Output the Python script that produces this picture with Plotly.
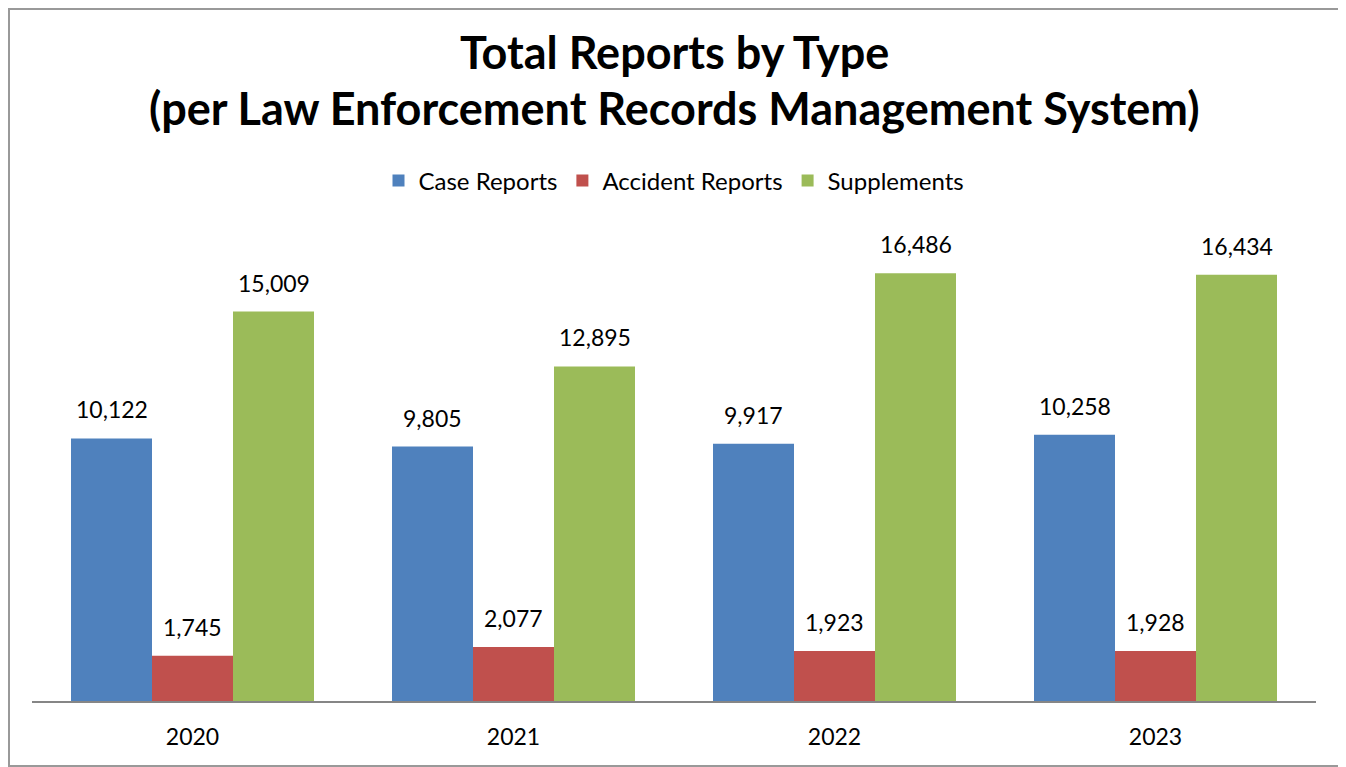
import plotly.graph_objects as go

years = ["2020", "2021", "2022", "2023"]
case_reports = [10122, 9805, 9917, 10258]
accident_reports = [1745, 2077, 1923, 1928]
supplements = [15009, 12895, 16486, 16434]

series = [
    ("Case Reports", case_reports, "#4F81BD"),
    ("Accident Reports", accident_reports, "#C0504D"),
    ("Supplements", supplements, "#9BBB59"),
]

FONT = "Lato"
OFF = 8  # browser body margin
W, H = 1346 - OFF, 767 - OFF
L, R = 32 - OFF, 30
B = 767 - 701
T = 234 - OFF
pw, ph = W - L - R, H - T - B
BAR_PX = 81  # bar width in px, used for label placement

fig = go.Figure()
for name, vals, color in series:
    fig.add_trace(go.Bar(
        x=years, y=vals, name=name,
        marker=dict(color=color, line=dict(width=0)),
        hoverinfo="x+y+name",
    ))

annotations = []
for i, (name, vals, color) in enumerate(series):
    for j, v in enumerate(vals):
        annotations.append(dict(
            x=j, y=v, xref="x", yref="y", xshift=(i - 1) * BAR_PX,
            yshift=13, yanchor="bottom", xanchor="center",
            text=f"{v:,}", showarrow=False,
            font=dict(size=23, family=FONT, color="#000000"),
        ))

# title lines
for txt, cy in [("Total Reports by Type", 52),
                ("(per Law Enforcement Records Management System)", 108)]:
    annotations.append(dict(
        x=0.5, xref="paper", y=(H + OFF - B - cy) / ph, yref="paper",
        yanchor="middle", xanchor="center", showarrow=False,
        text=f"<b>{txt}</b>",
        font=dict(size=45, family=FONT, color="#000000"),
    ))

fig.update_layout(
    width=W, height=H,
    margin=dict(l=L, r=R, t=T, b=B, autoexpand=False),
    paper_bgcolor="white", plot_bgcolor="white",
    barmode="group", bargap=0.243, bargroupgap=0,
    font=dict(family=FONT, color="#000000"),
    legend=dict(
        orientation="h", x=0.5, xanchor="center",
        y=(H + OFF - B - 181) / ph, yanchor="middle",
        font=dict(size=24, family=FONT), itemwidth=30,
        traceorder="normal",
    ),
    xaxis=dict(
        type="category", range=[-0.5, len(years) - 0.5], automargin=False,
        showline=True, linecolor="#868686", linewidth=2, ticks="",
        tickfont=dict(size=23, family=FONT), showgrid=False,
        ticklabelstandoff=14,
    ),
    yaxis=dict(range=[0, 18000], visible=False, showgrid=False),
    annotations=annotations,
    showlegend=True,
)

# outer chart border
fig.add_shape(
    type="rect", xref="paper", yref="paper",
    x0=(1 - L) / pw, x1=(W - 1 - L) / pw,
    y0=-(B - 1) / ph, y1=(H - B - 1) / ph,
    line=dict(color="#999999", width=2), fillcolor="rgba(0,0,0,0)", layer="below",
)

fig.write_html("out.html")
